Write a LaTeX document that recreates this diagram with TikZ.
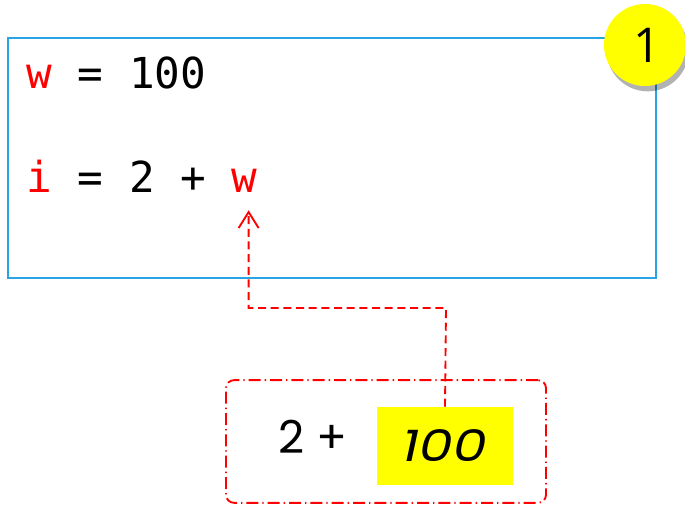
\documentclass[tikz,border=0pt]{standalone}
\usepackage{fontspec}
\usepackage{xcolor}
\newfontfamily\codefont{DejaVu Sans Mono}
\newfontfamily\roundfont{Poppins}
\newfontfamily\badgefont{Open Sans}
\definecolor{codeblue}{RGB}{41,163,226}
\definecolor{codered}{RGB}{255,0,0}
\definecolor{markyellow}{RGB}{255,255,0}
\usetikzlibrary{arrows.meta, positioning, shadows}

\begin{document}
\begin{tikzpicture}[x=0.75pt, y=-0.75pt,
    codetext/.style={font=\codefont\fontsize{32}{38}\selectfont, inner sep=0pt},
    roundtext/.style={font=\roundfont\fontsize{34}{40}\selectfont, inner sep=0pt},
    badge/.style={circle, fill=markyellow, minimum size=61.5pt, inner sep=0pt,
      font=\badgefont\fontsize{36}{40}\selectfont,
      drop shadow={shadow xshift=2pt, shadow yshift=-4pt, opacity=0.3, fill=black}},
    exprbox/.style={draw=codered, line width=1.4pt, rounded corners=6pt,
      dash pattern=on 9pt off 3pt on 1pt off 3pt},
    lookup/.style={draw=codered, line width=1.4pt, dash pattern=on 6pt off 3.5pt,
      -{Straight Barb[length=12pt, width=15pt, line width=1.4pt]}, shorten >=13.5pt}]
  \useasboundingbox (0,0) rectangle (685,508);

  % Code frame
  \draw[codeblue, line width=1.5pt] (8,38) rectangle (656,278);
  \node[badge] (stepno) at (645,45) {\hspace{4pt}1};

  % Code lines
  \node[codetext, anchor=base west] (line1) at (26,88) {\textcolor{codered}{w} = 100};
  \node[codetext, anchor=base west] (line2) at (26,192) {\textcolor{codered}{i} = 2 +};
  \node[codetext, text=codered, anchor=base west] (wuse) at (231.5,192) {w};

  % Evaluated expression
  \node[exprbox, minimum width=240pt, minimum height=92pt] (expr) at (386,441.5) {};
  \node[roundtext, anchor=base west] (sum) at (278,453) {2 +};
  \node[fill=markyellow, minimum width=102pt, minimum height=58.5pt, inner sep=0pt,
    font=\roundfont\itshape\fontsize{33}{40}\selectfont\addfontfeatures{FakeStretch=1.22}] (val) at (445,446) {100};

  % Lookup of w
  \coordinate (bend) at (446,308);
  \draw[lookup] (val.north) -- (bend) -| ([xshift=3pt]wuse.south);
\end{tikzpicture}
\end{document}
